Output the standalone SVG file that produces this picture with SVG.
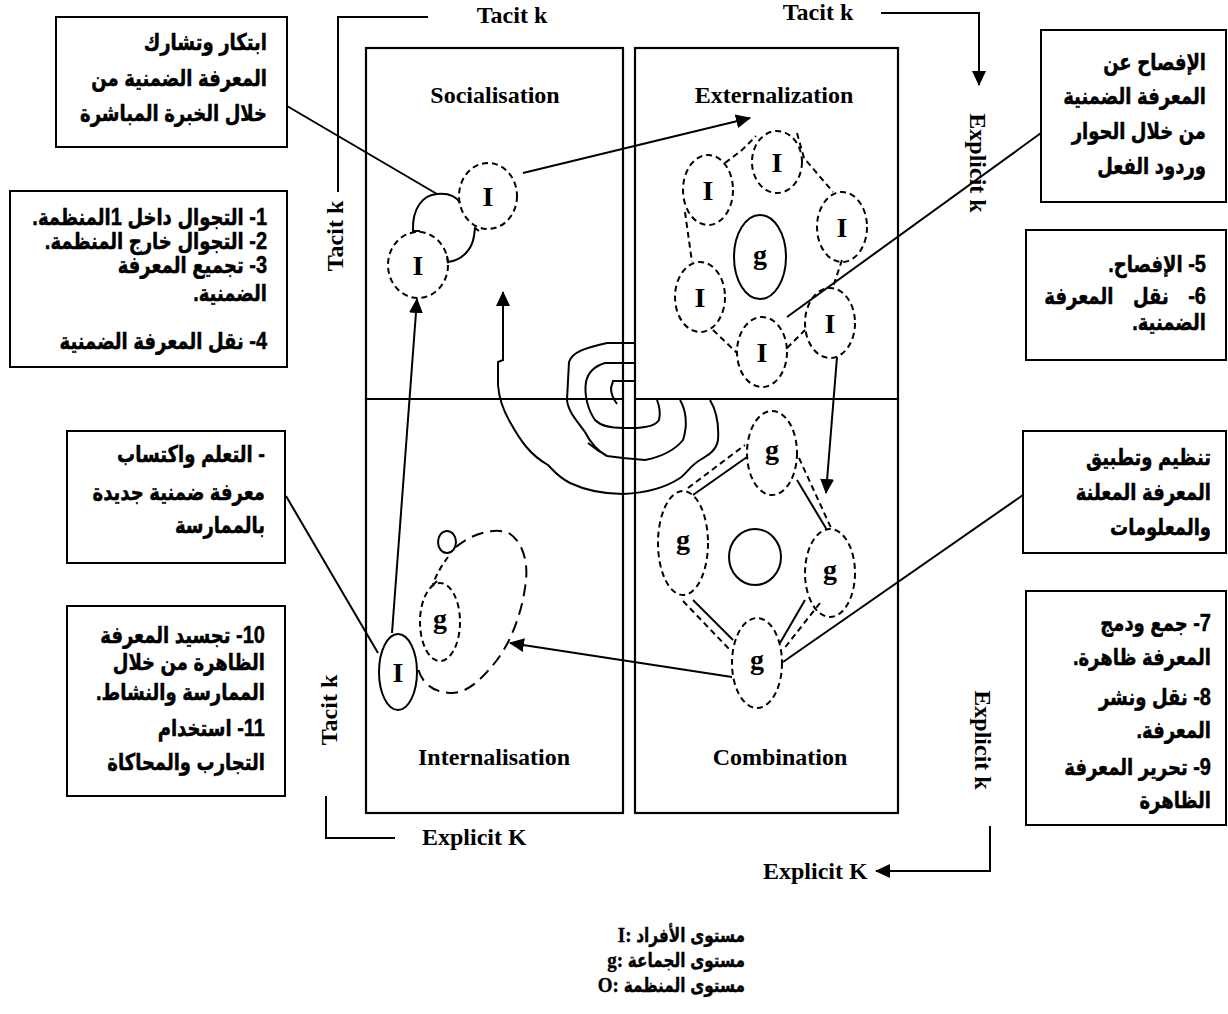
<svg xmlns="http://www.w3.org/2000/svg" width="1228" height="1014" viewBox="0 0 1228 1014">
  <style>
    .frame { fill: none; stroke: #000; stroke-width: 2.2; }
    .box { fill: #fff; stroke: #000; stroke-width: 2; }
    .ln { fill: none; stroke: #000; stroke-width: 2; }
    .dash { fill: none; stroke: #000; stroke-width: 2; stroke-dasharray: 6 4; }
    .bigdash { fill: none; stroke: #000; stroke-width: 2; stroke-dasharray: 12 7; }
    .solid { fill: none; stroke: #000; stroke-width: 2; }
    .lat { font-family: "Liberation Serif", "Times New Roman", serif; font-weight: bold; font-size: 24px; fill: #000; }
    .sym { font-family: "Liberation Serif", "Times New Roman", serif; font-weight: bold; font-size: 28px; fill: #000; text-anchor: middle; }
    .ar { font-family: "Liberation Sans", "DejaVu Sans Condensed", "DejaVu Sans", sans-serif; font-weight: bold; font-size: 20px; fill: #000; stroke: #000; stroke-width: 0.4; direction: rtl; text-anchor: start; }
    .legend { font-family: "Liberation Sans", "DejaVu Sans Condensed", "DejaVu Sans", sans-serif; font-weight: bold; font-size: 17px; fill: #000; stroke: #000; stroke-width: 0.3; text-anchor: end; }
  </style>
  <defs>
    <marker id="arrow" markerUnits="userSpaceOnUse" markerWidth="16" markerHeight="14" refX="14" refY="7" orient="auto">
      <path d="M0,0 L15,7 L0,14 z" fill="#000"/>
    </marker>
  </defs>

  <!-- SECI matrix: two columns, each split into two quadrants -->
  <g id="matrix">
    <rect class="frame" x="366" y="48" width="257" height="765"/>
    <line class="frame" x1="366" y1="399" x2="623" y2="399"/>
    <rect class="frame" x="635" y="48" width="263" height="765"/>
    <line class="frame" x1="635" y1="399" x2="898" y2="399"/>
    <text class="lat" x="495" y="103" text-anchor="middle">Socialisation</text>
    <text class="lat" x="774" y="103" text-anchor="middle">Externalization</text>
    <text class="lat" x="494" y="765" text-anchor="middle" font-size="25">Internalisation</text>
    <text class="lat" x="780" y="765" text-anchor="middle" font-size="25">Combination</text>
  </g>

  <!-- axis brackets and their labels -->
  <g id="axes">
    <path class="ln" d="M428,17 H338 V192"/>
    <text class="lat" x="512" y="23" text-anchor="middle">Tacit k</text>
    <text class="lat" x="818" y="20" text-anchor="middle">Tacit k</text>
    <text class="lat" transform="translate(343,236) rotate(-90)" text-anchor="middle">Tacit k</text>
    <text class="lat" transform="translate(970,163) rotate(90)" text-anchor="middle">Explicit k</text>
    <text class="lat" transform="translate(337,710) rotate(-90)" text-anchor="middle">Tacit k</text>
    <text class="lat" transform="translate(975,740) rotate(90)" text-anchor="middle">Explicit k</text>
    <path class="ln" d="M326,796 V838 H395"/>
    <text class="lat" x="422" y="845">Explicit K</text>
    <text class="lat" x="763" y="879">Explicit K</text>
  </g>

  <!-- Socialisation: two individuals -->
  <g id="soc-individuals">
    <ellipse class="dash" cx="488" cy="196" rx="29" ry="33"/>
    <text class="sym" x="488" y="206">I</text>
    <ellipse class="dash" cx="418" cy="265" rx="30" ry="33"/>
    <text class="sym" x="418" y="275">I</text>
    <path class="solid" d="M420,231 L413,231 C412,208 423,195 437,194 C448,193 456,196 460,203"/>
    <path class="solid" d="M447,256 L448,262 C462,260 472,250 474,236 L475,228 L479,231"/>
  </g>

  <!-- Externalization: individuals around a group -->
  <g id="ext-group">
    <ellipse class="solid" cx="760" cy="257" rx="26" ry="42"/>
    <text class="sym" x="760" y="264">g</text>
    <ellipse class="dash" cx="708" cy="190" rx="25" ry="35"/>
    <text class="sym" x="708" y="200">I</text>
    <ellipse class="dash" cx="777" cy="162" rx="25" ry="31"/>
    <text class="sym" x="777" y="172">I</text>
    <ellipse class="dash" cx="842" cy="227" rx="25" ry="35"/>
    <text class="sym" x="842" y="237">I</text>
    <ellipse class="dash" cx="700" cy="297" rx="25" ry="35"/>
    <text class="sym" x="700" y="307">I</text>
    <ellipse class="dash" cx="762" cy="352" rx="25" ry="35"/>
    <text class="sym" x="762" y="362">I</text>
    <ellipse class="dash" cx="830" cy="323" rx="25" ry="35"/>
    <text class="sym" x="830" y="333">I</text>
    <path class="dash" d="M725,163 L742,150 L756,136"/>
    <path class="dash" d="M797,133 L804,158 L833,192"/>
    <path class="dash" d="M685,212 L692,262"/>
    <path class="dash" d="M713,330 L737,353"/>
    <path class="dash" d="M787,348 L805,330"/>
    <path class="dash" d="M842,260 L833,287"/>
  </g>

  <!-- Combination: groups around the organisation -->
  <g id="comb-groups">
    <ellipse class="solid" cx="755" cy="557" rx="26" ry="28"/>
    <ellipse class="dash" cx="772" cy="453" rx="25" ry="42"/>
    <text class="sym" x="772" y="459">g</text>
    <ellipse class="dash" cx="683" cy="543" rx="25" ry="52"/>
    <text class="sym" x="683" y="549">g</text>
    <ellipse class="dash" cx="830" cy="573" rx="25" ry="44"/>
    <text class="sym" x="830" y="579">g</text>
    <ellipse class="dash" cx="757" cy="663" rx="25" ry="45"/>
    <text class="sym" x="757" y="669">g</text>
    <line class="solid" x1="693" y1="495" x2="747" y2="457"/>
    <line class="dash" x1="688" y1="488" x2="745" y2="445"/>
    <line class="solid" x1="797" y1="480" x2="827" y2="530"/>
    <line class="dash" x1="799" y1="458" x2="832" y2="530"/>
    <line class="solid" x1="693" y1="600" x2="733" y2="640"/>
    <line class="dash" x1="683" y1="601" x2="730" y2="650"/>
    <line class="solid" x1="805" y1="600" x2="780" y2="643"/>
    <line class="dash" x1="820" y1="603" x2="783" y2="650"/>
  </g>

  <!-- Internalisation: individual, group and organisation -->
  <g id="int-levels">
    <ellipse class="solid" cx="398" cy="672" rx="19" ry="38"/>
    <text class="sym" x="398" y="682">I</text>
    <ellipse class="dash" cx="440" cy="622" rx="20" ry="39"/>
    <text class="sym" x="440" y="628">g</text>
    <ellipse class="solid" cx="447" cy="542" rx="9" ry="11"/>
    <path class="bigdash" d="M456,547 C470,535 490,528 507,532 C522,540 528,560 526,580 C523,610 512,640 497,660 C480,682 465,694 450,693 C435,692 422,685 418,668"/>
    <path class="dash" d="M448,557 C442,565 436,575 433,584"/>
    <path class="solid" d="M431,587 L437,581"/>
  </g>

  <!-- knowledge spiral -->
  <g id="spiral">
    <path class="solid" d="M710,400 C716,410 719,425 718,440 C716,452 706,456 700,460 C690,466 686,474 680,478 C665,488 645,493 623,494 C600,494 585,490 570,483 C558,477 553,470 548,465 C530,455 520,440 510,422 C503,410 499,398 498,385 L498,362 L503,360 L503,292" marker-end="url(#arrow)"/>
    <path class="solid" d="M635,343 L607,343 C585,348 572,352 569,362 L567,400 C568,412 578,422 585,432 C590,442 596,450 607,456 L623,458 L645,460 C660,457 675,450 683,440 C688,425 686,410 680,400"/>
    <path class="solid" d="M588,443 L600,452"/>
    <path class="solid" d="M635,363 L605,363 C595,366 588,372 586,382 C584,395 588,410 595,420 C602,427 612,428 623,428 L637,428 C647,427 655,426 659,420 C661,412 659,405 657,400"/>
    <path class="solid" d="M635,381 L613,381 L611,388 C611,395 614,400 617,404"/>
  </g>

  <!-- conversion arrows and callout leaders -->
  <g id="connectors">
    <line class="ln" x1="523" y1="173" x2="750" y2="118" marker-end="url(#arrow)"/>
    <line class="ln" x1="392" y1="633" x2="417" y2="299" marker-end="url(#arrow)"/>
    <line class="ln" x1="837" y1="357" x2="826" y2="493" marker-end="url(#arrow)"/>
    <line class="ln" x1="732" y1="677" x2="510" y2="643" marker-end="url(#arrow)"/>
    <path class="ln" d="M881,13 H979 V85" marker-end="url(#arrow)"/>
    <path class="ln" d="M990,826 V871 H876" marker-end="url(#arrow)"/>
    <line class="ln" x1="287" y1="106" x2="437" y2="194"/>
    <line class="ln" x1="1041" y1="133" x2="787" y2="317"/>
    <line class="ln" x1="286" y1="496" x2="378" y2="653"/>
    <line class="ln" x1="1023" y1="495" x2="783" y2="662"/>
  </g>

  <!-- text boxes (Arabic lines are stretched slightly upward from their baseline) -->
  <g id="box-socialisation">
    <rect class="box" x="56" y="17" width="231" height="130"/>
    <text class="ar" x="267" y="50" transform="matrix(1 0 0 1.15 0 -7.5)">ابتكار وتشارك</text>
    <text class="ar" x="267" y="86" transform="matrix(1 0 0 1.15 0 -12.9)">المعرفة الضمنية من</text>
    <text class="ar" x="267" y="121" transform="matrix(1 0 0 1.15 0 -18.15)">خلال الخبرة المباشرة</text>
  </g>
  <g id="box-socialisation-steps">
    <rect class="box" x="10" y="191" width="277" height="176"/>
    <text class="ar" x="267" y="225" transform="matrix(1 0 0 1.15 0 -33.75)">1- التجوال داخل 1المنظمة.</text>
    <text class="ar" x="267" y="249" transform="matrix(1 0 0 1.15 0 -37.35)">2- التجوال خارج المنظمة.</text>
    <text class="ar" x="267" y="273" transform="matrix(1 0 0 1.15 0 -40.95)">3- تجميع المعرفة</text>
    <text class="ar" x="267" y="301" transform="matrix(1 0 0 1.15 0 -45.15)">الضمنية.</text>
    <text class="ar" x="267" y="349" transform="matrix(1 0 0 1.15 0 -52.35)">4- نقل المعرفة الضمنية</text>
  </g>
  <g id="box-externalization">
    <rect class="box" x="1041" y="30" width="185" height="172"/>
    <text class="ar" x="1206" y="70" transform="matrix(1 0 0 1.15 0 -10.5)">الإفصاح عن</text>
    <text class="ar" x="1206" y="104" transform="matrix(1 0 0 1.15 0 -15.6)">المعرفة الضمنية</text>
    <text class="ar" x="1206" y="139" transform="matrix(1 0 0 1.15 0 -20.85)">من خلال الحوار</text>
    <text class="ar" x="1206" y="174" transform="matrix(1 0 0 1.15 0 -26.1)">وردود الفعل</text>
  </g>
  <g id="box-externalization-steps">
    <rect class="box" x="1026" y="230" width="200" height="130"/>
    <text class="ar" x="1206" y="272" transform="matrix(1 0 0 1.15 0 -40.8)">5- الإفصاح.</text>
    <text class="ar" x="1206" y="304" word-spacing="14" transform="matrix(1 0 0 1.15 0 -45.6)">6- نقل المعرفة</text>
    <text class="ar" x="1206" y="330" transform="matrix(1 0 0 1.15 0 -49.5)">الضمنية.</text>
  </g>
  <g id="box-internalisation">
    <rect class="box" x="67" y="431" width="218" height="132"/>
    <text class="ar" x="265" y="462" transform="matrix(1 0 0 1.15 0 -69.3)">- التعلم واكتساب</text>
    <text class="ar" x="265" y="500" transform="matrix(1 0 0 1.15 0 -75)">معرفة ضمنية جديدة</text>
    <text class="ar" x="265" y="533" transform="matrix(1 0 0 1.15 0 -79.95)">بالممارسة</text>
  </g>
  <g id="box-internalisation-steps">
    <rect class="box" x="67" y="606" width="218" height="190"/>
    <text class="ar" x="265" y="643" transform="matrix(1 0 0 1.15 0 -96.45)">10- تجسيد المعرفة</text>
    <text class="ar" x="265" y="670" transform="matrix(1 0 0 1.15 0 -100.5)">الظاهرة من خلال</text>
    <text class="ar" x="265" y="700" transform="matrix(1 0 0 1.15 0 -105)">الممارسة والنشاط.</text>
    <text class="ar" x="265" y="736" transform="matrix(1 0 0 1.15 0 -110.4)">11- استخدام</text>
    <text class="ar" x="265" y="770" transform="matrix(1 0 0 1.15 0 -115.5)">التجارب والمحاكاة</text>
  </g>
  <g id="box-combination">
    <rect class="box" x="1023" y="431" width="203" height="122"/>
    <text class="ar" x="1211" y="465" transform="matrix(1 0 0 1.15 0 -69.75)">تنظيم وتطبيق</text>
    <text class="ar" x="1211" y="500" transform="matrix(1 0 0 1.15 0 -75)">المعرفة المعلنة</text>
    <text class="ar" x="1211" y="535" transform="matrix(1 0 0 1.15 0 -80.25)">والمعلومات</text>
  </g>
  <g id="box-combination-steps">
    <rect class="box" x="1026" y="591" width="200" height="234"/>
    <text class="ar" x="1211" y="631" transform="matrix(1 0 0 1.15 0 -94.65)">7- جمع ودمج</text>
    <text class="ar" x="1211" y="665" transform="matrix(1 0 0 1.15 0 -99.75)">المعرفة ظاهرة.</text>
    <text class="ar" x="1211" y="705" transform="matrix(1 0 0 1.15 0 -105.75)">8- نقل ونشر</text>
    <text class="ar" x="1211" y="738" transform="matrix(1 0 0 1.15 0 -110.7)">المعرفة.</text>
    <text class="ar" x="1211" y="775" transform="matrix(1 0 0 1.15 0 -116.25)">9- تحرير المعرفة</text>
    <text class="ar" x="1211" y="808" transform="matrix(1 0 0 1.15 0 -121.2)">الظاهرة</text>
  </g>

  <!-- legend -->
  <g id="legend">
    <text class="legend" x="745" y="942" transform="matrix(1 0 0 1.15 0 -141.3)"><tspan font-family="Liberation Serif, serif" font-size="19">I:</tspan> مستوى الأفراد</text>
    <text class="legend" x="745" y="967" transform="matrix(1 0 0 1.15 0 -145.05)"><tspan font-family="Liberation Serif, serif" font-size="19">g:</tspan> مستوى الجماعة</text>
    <text class="legend" x="745" y="992" transform="matrix(1 0 0 1.15 0 -148.8)"><tspan font-family="Liberation Serif, serif" font-size="19">O:</tspan> مستوى المنظمة</text>
  </g>
</svg>
